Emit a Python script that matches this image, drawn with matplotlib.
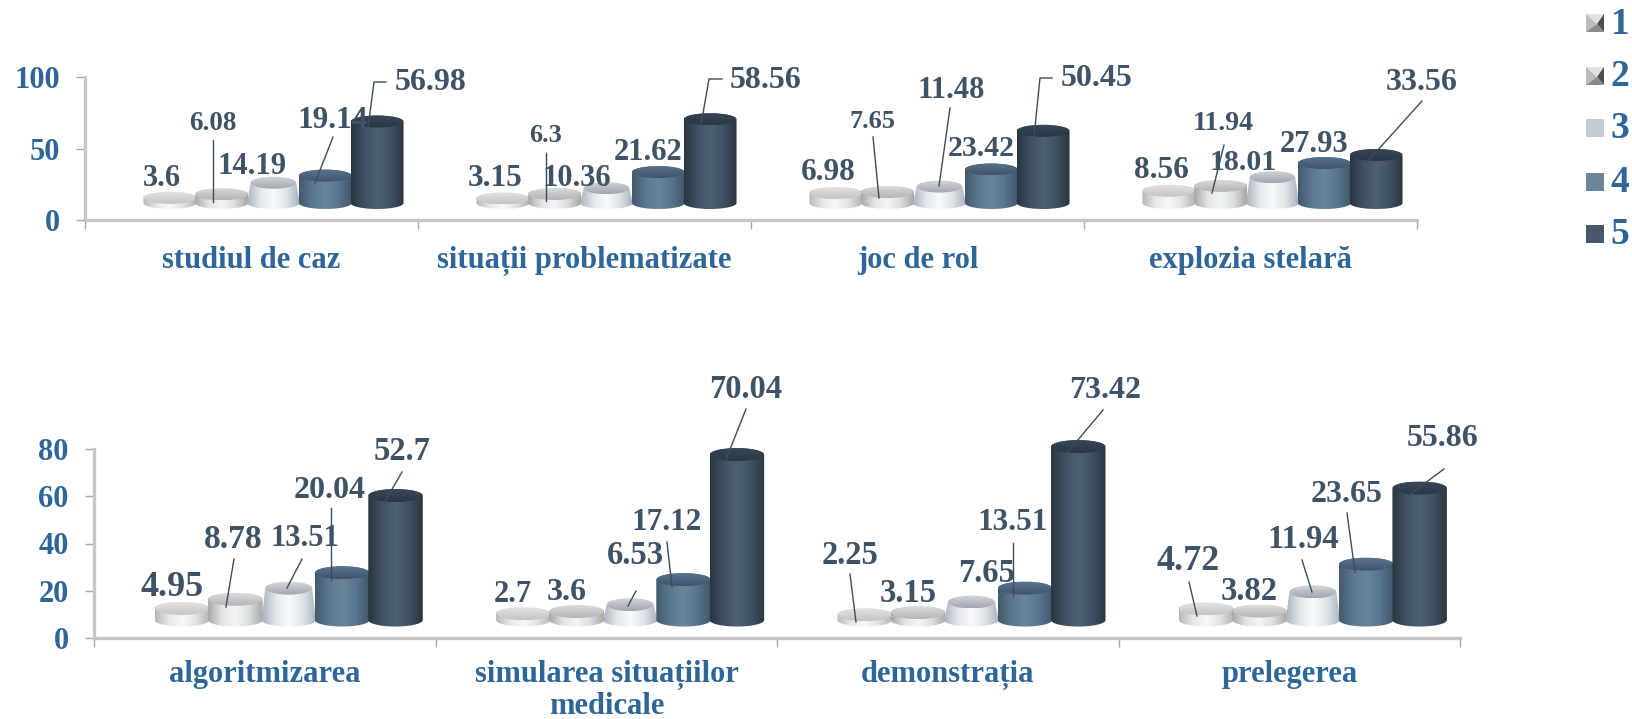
import numpy as np
import matplotlib
matplotlib.use('Agg')
import matplotlib.pyplot as plt
from matplotlib.colors import LinearSegmentedColormap
from matplotlib.patches import Ellipse, PathPatch, Polygon, Rectangle
from matplotlib.path import Path

plt.rcParams['font.family'] = ['Liberation Serif', 'DejaVu Serif']
plt.rcParams['font.weight'] = 'bold'

# chart data
categories_top = ['studiul de caz', 'situații problematizate', 'joc de rol', 'explozia stelară']
categories_bottom = ['algoritmizarea', 'simularea situațiilor\nmedicale', 'demonstrația', 'prelegerea']
values_top = [
    [3.6, 6.08, 14.19, 19.14, 56.98],
    [3.15, 6.3, 10.36, 21.62, 58.56],
    [6.98, 7.65, 11.48, 23.42, 50.45],
    [8.56, 11.94, 18.01, 27.93, 33.56],
]
values_bottom = [
    [4.95, 8.78, 13.51, 20.04, 52.7],
    [2.7, 3.6, 6.53, 17.12, 70.04],
    [2.25, 3.15, 7.65, 13.51, 73.42],
    [4.72, 3.82, 11.94, 23.65, 55.86],
]
series_names = ['1', '2', '3', '4', '5']
yticks_top = [0, 50, 100]
yticks_bottom = [0, 20, 40, 60, 80]

# layout of the value labels, in picture pixels: (x, y, font size)
label_pos_top = [
    [(162, 178, 22), (213, 123, 19.5), (252, 167, 22), (333, 120, 22.5), (431, 82, 23)],
    [(495, 179, 22.5), (546, 136, 19), (577, 178, 22), (648, 153, 22), (766, 81, 23)],
    [(828, 172, 22.5), (873, 121, 19), (951, 90, 22), (981, 149, 21.5), (1097, 79, 23)],
    [(1161, 171, 22.5), (1223, 123, 20), (1243, 163, 21.5), (1314, 144, 22), (1422, 82, 23)],
]
label_pos_bottom = [
    [(172, 588, 26), (233, 539, 24), (305, 539, 22), (330, 490, 23), (402, 452, 23.5)],
    [(513, 594, 22), (567, 593, 23), (635, 556, 23.5), (667, 523, 22.5), (746, 389, 23.5)],
    [(850, 556, 23.5), (908, 593, 23.5), (987, 574, 23.5), (1013, 523, 22.5), (1105, 390, 23)],
    [(1188, 561, 26), (1249, 592, 23.5), (1303, 540, 23.5), (1347, 495, 23), (1443, 439, 23)],
]
leaders = [
    [(213, 140), (213, 202)],
    [(333, 137), (315, 183)],
    [(386, 82), (374, 82), (368, 128)],
    [(546, 153), (546, 201)],
    [(722, 79), (709, 79), (701, 125)],
    [(873, 137), (879, 198)],
    [(950, 108), (939, 186)],
    [(1052, 78), (1040, 78), (1034, 137)],
    [(1224, 145), (1212, 193)],
    [(1422, 101), (1367, 162)],
    [(234, 559), (226, 607)],
    [(302, 559), (287, 588)],
    [(331, 508), (331, 580)],
    [(402, 472), (384, 503)],
    [(636, 591), (628, 606)],
    [(667, 542), (672, 587)],
    [(746, 409), (725, 462)],
    [(850, 574), (856, 622)],
    [(1013, 543), (1013, 596)],
    [(1103, 410), (1067, 453)],
    [(1189, 582), (1197, 616)],
    [(1302, 560), (1312, 592)],
    [(1347, 513), (1355, 572)],
    [(1444, 469), (1409, 495)],
]

# colours
blue_text = '#2e6699'
slate_text = '#3f5366'
body_colors = [
    ['#b8b8b8', '#e8e8e8', '#f8f8f8', '#e4e4e4', '#b4b4b4'],
    ['#a8a8a8', '#e2e4e5', '#f4f5f6', '#dcdfe0', '#a8a8a8'],
    ['#aab3be', '#e4e8ed', '#f8fafb', '#dfe4ea', '#a9b2bd'],
    ['#44596d', '#5b7890', '#688699', '#597590', '#42566a'],
    ['#29363f', '#3f5263', '#4e6172', '#3f5262', '#2a3640'],
]
cap_colors = [
    ['#c4c4c4', '#e4e4e4'],
    ['#b4b4b4', '#dcdcdc'],
    ['#9fa6ad', '#d4d8dc'],
    ['#3e5569', '#587590'],
    ['#2a3744', '#384857'],
]
# the third series narrows a little towards its top
top_scale = [1, 1, 0.86, 1, 1]
legend_colors = [None, None, '#c2cad4', '#6d8499', '#47586a']

W, H = 1633, 719
fig = plt.figure(figsize=(W / 100, H / 100), dpi=100)


def make_axes(left, right, bottom, top):
    return fig.add_axes([left / W, 1 - bottom / H, (right - left) / W, (bottom - top) / H])


def cylinder(ax, xc, value, width, cap_h, floor, series):
    t = np.linspace(0, np.pi, 60)
    top_y = floor + value
    top_w = width * top_scale[series]
    xs = np.r_[xc - width / 2 * np.cos(t), xc + top_w / 2 * np.cos(t)]
    ys = np.r_[floor - cap_h / 2 * np.sin(t), top_y + cap_h / 2 * np.sin(t)]
    outline = PathPatch(Path(np.c_[xs, ys]), transform=ax.transData, fc='none', ec='none')
    ax.add_patch(outline)
    cmap = LinearSegmentedColormap.from_list('body', body_colors[series])
    im = ax.imshow(np.linspace(0, 1, 64)[None, :], cmap=cmap, aspect='auto', zorder=3 + series * 0.1,
                   extent=[xc - width / 2, xc + width / 2, floor - cap_h, top_y + cap_h],
                   interpolation='bilinear')
    im.set_clip_path(outline)
    im.set_clip_box(fig.bbox)

    cap = Ellipse((xc, top_y), top_w * 0.98, cap_h, transform=ax.transData, fc='none', ec='none')
    ax.add_patch(cap)
    cap_map = LinearSegmentedColormap.from_list('cap', cap_colors[series])
    im2 = ax.imshow(np.linspace(1, 0, 32)[:, None], cmap=cap_map, aspect='auto', zorder=3.05 + series * 0.1,
                    extent=[xc - width / 2, xc + width / 2, top_y - cap_h / 2, top_y + cap_h / 2],
                    interpolation='bilinear')
    im2.set_clip_path(cap)
    im2.set_clip_box(fig.bbox)


def draw_panel(ax, categories, values, yticks, pitch, shift, floor, cap_h, label_size, y_size, x_pad, y_pad):
    for i, group in enumerate(values):
        for j, v in enumerate(group):
            xc = i + 0.5 + shift + (j - 2) * pitch
            cylinder(ax, xc, v, pitch * 1.02, cap_h, floor, j)
    ax.set_xlim(0, len(categories))
    ax.set_ylim(yticks[0], yticks[-1])
    for s in ['top', 'right']:
        ax.spines[s].set_visible(False)
    for s in ['left', 'bottom']:
        ax.spines[s].set_color('#c6c6c6')
        ax.spines[s].set_linewidth(2.4)
    ax.set_yticks(yticks)
    ax.set_xticks(np.arange(len(categories)) + 0.5)
    ax.set_xticklabels(categories, linespacing=1.1)
    ax.set_xticks(np.arange(len(categories) + 1), minor=True)
    ax.tick_params(axis='x', which='major', length=0, pad=x_pad, labelsize=label_size, labelcolor=blue_text)
    ax.tick_params(axis='x', which='minor', length=6.5, width=1, color='#a6a6a6')
    ax.tick_params(axis='y', length=6.5, width=1, color='#a6a6a6', pad=y_pad, labelsize=y_size, labelcolor=blue_text)
    ax.patch.set_alpha(0)


ax_top = make_axes(85, 1417, 220, 77)
draw_panel(ax_top, categories_top, values_top, yticks_top, 0.1556, 0.066, 11.9, 8.4, 22, 22, 19, 11.5)

ax_bottom = make_axes(94.5, 1460, 638, 449)
draw_panel(ax_bottom, categories_bottom, values_bottom, yticks_bottom, 0.1564, 0.069, 7.6, 5.5, 22, 22, 16, 12)

# overlay in picture pixels for the value labels, leader lines and legend
over = fig.add_axes([0, 0, 1, 1], zorder=10)
over.set_xlim(0, W)
over.set_ylim(H, 0)
over.axis('off')

for values, positions in [(values_top, label_pos_top), (values_bottom, label_pos_bottom)]:
    for group, pos in zip(values, positions):
        for v, (x, y, size) in zip(group, pos):
            over.text(x, y, str(v), ha='center', va='center', fontsize=size, color=slate_text)

for line in leaders:
    xs, ys = zip(*line)
    over.plot(xs, ys, color='#3a4d5e', lw=1)

legend_y = [23, 76, 128, 182, 234]
for name, y, color in zip(series_names, legend_y, legend_colors):
    x0, x1 = 1586, 1604
    y0, y1 = y - 9, y + 9
    if color is None:
        # bevelled key
        mx, my = (x0 + x1) / 2 + 2, y + 1
        over.add_patch(Polygon([(x0, y0), (x1, y0), (mx, my)], fc='#e2e2e2', ec='none'))
        over.add_patch(Polygon([(x0, y0), (x0, y1), (mx, my)], fc='#bcbcbc', ec='none'))
        over.add_patch(Polygon([(x1, y0), (x1, y1), (mx, my)], fc='#4e4e4e', ec='none'))
        over.add_patch(Polygon([(x0, y1), (x1, y1), (mx, my)], fc='#8a8a8a', ec='none'))
    else:
        over.add_patch(Rectangle((x0, y0), x1 - x0, y1 - y0, fc=color, ec='none'))
    over.text(1620, y + 1, name, ha='center', va='center', fontsize=27, color=blue_text)

fig.savefig('out.png', dpi=100)
